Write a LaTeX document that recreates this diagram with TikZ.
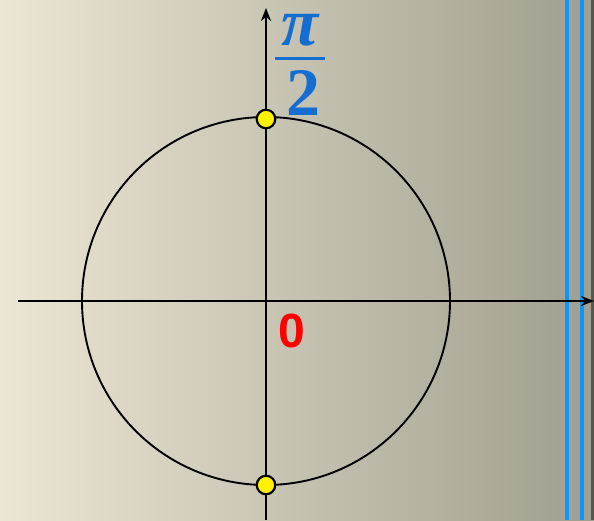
\documentclass[tikz,border=0pt]{standalone}
\usepackage{fontspec}
\setmainfont{Liberation Serif}
\newfontfamily\arialfont{Liberation Sans}
\usetikzlibrary{arrows.meta}
\definecolor{bgleft}{RGB}{236,230,212}
\definecolor{bgright}{RGB}{160,158,142}
\definecolor{fracblue}{RGB}{20,110,210}
\definecolor{lineblue}{RGB}{10,150,250}
\definecolor{zred}{RGB}{255,0,0}
\begin{document}
\begin{tikzpicture}[x=1pt,y=-1pt,
  axis/.style={line width=1.8pt,-{Stealth[length=13pt,width=10pt]}},
  pt/.style={circle,draw=black,line width=2.2pt,fill=yellow,minimum size=18.5pt,inner sep=0pt},
  vline/.style={lineblue,line width=4pt},
  fractxt/.style={text=fracblue,font=\fontsize{68}{68}\selectfont\bfseries,inner sep=0pt,text height=34pt,text depth=0pt}]
\useasboundingbox (0,0) rectangle (594,520);
\shade[left color=bgleft,right color=bgright] (0,0) rectangle (594,520);
\fill[black!45!bgright] (591,0) rectangle (594,520);
\draw[vline] (567,0) -- (567,520);
\draw[vline] (582,0) -- (582,520);
\coordinate (O) at (266,301);
\coordinate (xs) at (18,301);
\coordinate (xe) at (594,301);
\coordinate (ys) at (266,520);
\coordinate (ye) at (266,8);
\draw[line width=1.9pt] (O) circle[radius=184];
\draw[axis] (xs) -- (xe);
\draw[axis] (ys) -- (ye);
\node[pt] (top) at (266,119) {};
\node[pt] (bot) at (266,485) {};
\node[fractxt,anchor=base] (pi) at (300,45) {\itshape π};
\fill[fracblue] (275,56.5) rectangle (325,59.5);
\node[fractxt,anchor=base] (two) at (303,115) {2};
\node[text=zred,font=\arialfont\fontsize{48}{48}\selectfont\bfseries,inner sep=0pt,anchor=base] (zero) at (292,347) {0};
\end{tikzpicture}
\end{document}
